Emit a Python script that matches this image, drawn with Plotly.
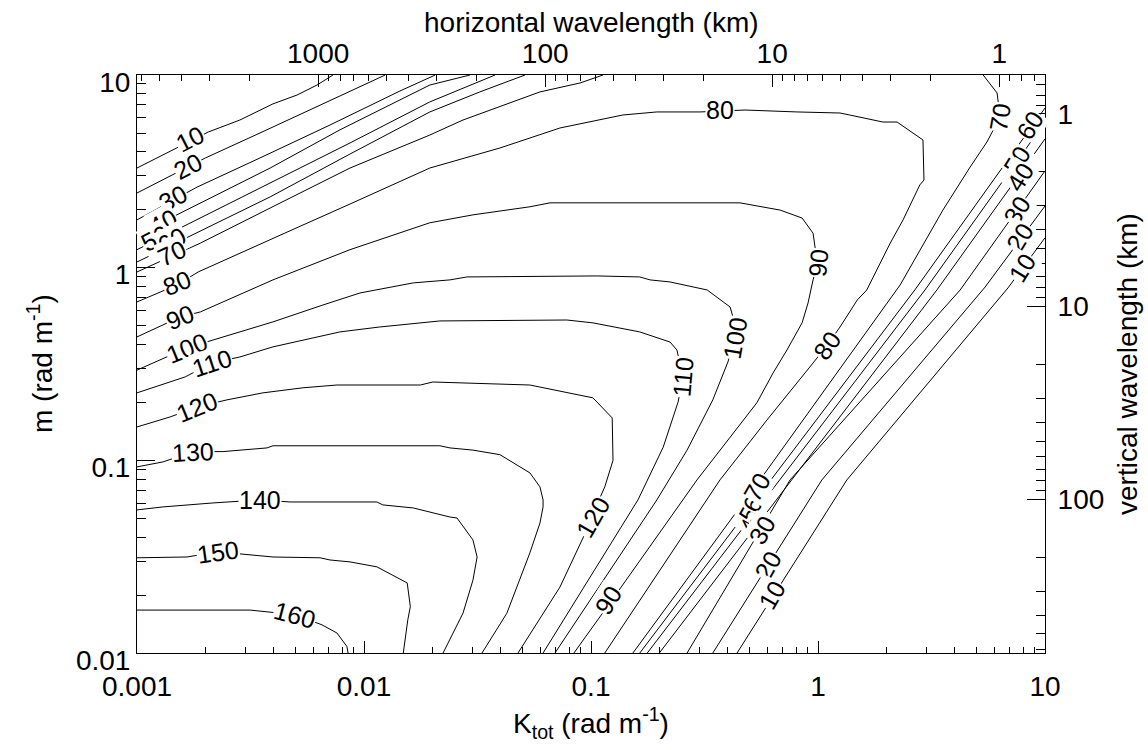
import math
import plotly.graph_objects as go

# ---------------- contour lines (K_tot, m in rad m^-1) ----------------
c10_k = [0.00100, 0.00171, 0.00206, 0.00284, 0.00397, 0.00507, 0.00621, 0.00730]
c10_m = [3.29, 4.54, 5.06, 5.84, 7.08, 7.87, 8.87, 10.0]
c20_k = [0.00100, 0.00140, 0.00200, 0.00348, 0.00640, 0.0124]
c20_m = [2.44, 2.99, 3.71, 5.00, 6.99, 10.0]
c30_k = [0.00100, 0.00184, 0.00348, 0.00708, 0.0144, 0.0206]
c30_m = [1.77, 2.62, 3.71, 5.50, 8.26, 10.0]
c40_k = [0.00100, 0.00190, 0.00386, 0.00783, 0.0195, 0.0293]
c40_m = [1.48, 2.17, 3.29, 5.19, 8.87, 10.0]
c50_k = [0.00100, 0.00190, 0.00386, 0.00868, 0.0195, 0.0378]
c50_m = [1.24, 1.81, 2.75, 4.44, 7.25, 10.0]
c60_k = [0.00100, 0.00190, 0.00386, 0.00868, 0.0195, 0.0324, 0.0512]
c60_m = [1.07, 1.55, 2.33, 3.89, 6.43, 8.17, 10.0]
c70_k = [0.00100, 0.00190, 0.00386, 0.00868, 0.0195, 0.0273, 0.0596, 0.0895, 0.113]
c70_m = [0.950, 1.34, 2.04, 3.29, 4.88, 5.84, 8.17, 9.09, 10.0]
c80_k = [0.00100, 0.00150, 0.00186, 0.00315, 0.00523, 0.00868, 0.0195, 0.0397, 0.0730,
         0.138, 0.195, 0.302, 0.477, 0.808, 1.25, 1.38, 1.93, 2.23, 2.90, 2.93, 2.81,
         2.37, 2.08, 1.64, 1.49, 1.25, 1.10, 0.951, 0.596, 0.370, 0.115]
c80_m = [0.664, 0.813, 0.950, 1.25, 1.64, 2.14, 3.29, 4.18, 5.31,
         6.20, 6.43, 6.43, 6.58, 6.43, 6.35, 6.20, 5.70, 5.70, 4.60, 2.85, 2.69,
         1.77, 1.34, 0.766, 0.680, 0.492, 0.397, 0.320, 0.162, 0.0791, 0.0100]
c90_k = [0.00100, 0.00155, 0.00190, 0.00315, 0.00397, 0.00868, 0.0195, 0.0302, 0.0538,
         0.0660, 0.453, 0.681, 0.851, 0.951, 0.970, 1.00, 0.951, 0.904, 0.851, 0.730,
         0.634, 0.538, 0.410, 0.293, 0.124, 0.0841]
c90_m = [0.437, 0.555, 0.589, 0.766, 0.864, 1.24, 1.71, 1.88, 2.07,
         2.17, 2.17, 1.99, 1.81, 1.51, 1.28, 1.06, 0.864, 0.656, 0.517, 0.374,
         0.284, 0.199, 0.132, 0.0791, 0.0189, 0.0100]
c100_k = [0.00100, 0.00166, 0.00216, 0.00397, 0.00659, 0.00960, 0.0165, 0.0239, 0.0284,
          0.106, 0.164, 0.182, 0.223, 0.325, 0.410, 0.422, 0.431, 0.401, 0.344, 0.265,
          0.195, 0.0694]
c100_m = [0.294, 0.383, 0.421, 0.523, 0.640, 0.739, 0.834, 0.864, 0.895,
          0.906, 0.895, 0.864, 0.843, 0.766, 0.625, 0.555, 0.432, 0.324, 0.206, 0.113,
          0.0623, 0.0100]
c110_k = [0.00100, 0.00163, 0.00214, 0.00284, 0.00397, 0.00783, 0.0117, 0.0216, 0.0783,
          0.102, 0.164, 0.223, 0.239, 0.254, 0.242, 0.208, 0.161, 0.0615]
c110_m = [0.224, 0.271, 0.320, 0.344, 0.388, 0.464, 0.492, 0.529, 0.535,
          0.517, 0.464, 0.411, 0.374, 0.271, 0.201, 0.117, 0.0623, 0.0100]
c120_k = [0.00100, 0.00140, 0.00184, 0.00249, 0.00359, 0.00539, 0.00760, 0.0177, 0.0201,
          0.0538, 0.102, 0.124, 0.125, 0.115, 0.107, 0.102, 0.0913, 0.0730, 0.0477]
c120_m = [0.149, 0.168, 0.189, 0.206, 0.224, 0.238, 0.246, 0.246, 0.255,
          0.246, 0.211, 0.166, 0.100, 0.0728, 0.0601, 0.0508, 0.0386, 0.0220, 0.0100]
c130_k = [0.00100, 0.00130, 0.00177, 0.00239, 0.00374, 0.00397, 0.0216, 0.0239, 0.0302,
          0.0397, 0.0538, 0.0596, 0.0615, 0.0615, 0.0596, 0.0538, 0.0426, 0.0331]
c130_m = [0.0925, 0.0981, 0.111, 0.111, 0.116, 0.119, 0.119, 0.116, 0.113,
          0.107, 0.0861, 0.0728, 0.0623, 0.0573, 0.0473, 0.0331, 0.0161, 0.0100]
c140_k = [0.00100, 0.00130, 0.00216, 0.00348, 0.00472, 0.0114, 0.0121, 0.0165, 0.0239,
          0.0257, 0.0302, 0.0315, 0.0302, 0.0273, 0.0223]
c140_m = [0.0553, 0.0573, 0.0601, 0.0623, 0.0608, 0.0608, 0.0587, 0.0566, 0.0508,
          0.0502, 0.0386, 0.0315, 0.0239, 0.0161, 0.0100]
c150_k = [0.00100, 0.00166, 0.00228, 0.00308, 0.00397, 0.00640, 0.00708, 0.00868, 0.0103,
          0.0114, 0.0155, 0.0160, 0.0156, 0.0149]
c150_m = [0.0312, 0.0315, 0.0335, 0.0323, 0.0315, 0.0312, 0.0304, 0.0297, 0.0286,
          0.0280, 0.0231, 0.0174, 0.0149, 0.0100]
c160_k = [0.00100, 0.00315, 0.00497, 0.00653, 0.00760, 0.00841, 0.00851]
c160_m = [0.0167, 0.0167, 0.0158, 0.0140, 0.0127, 0.0108, 0.0100]
# right-hand bundle
r70_k = [0.153, 0.555, 2.30, 3.55, 4.68, 5.55, 6.34, 6.15, 5.34]
r70_m = [0.0100, 0.0791, 0.813, 1.99, 3.33, 4.49, 6.05, 8.07, 10.0]
r60_k = [0.164, 2.67, 10.0]
r60_m = [0.0100, 0.766, 6.74]
r50_k = [0.177, 2.96, 10.0]
r50_m = [0.0100, 0.766, 5.70]
r40_k = [0.200, 3.34, 10.0]
r40_m = [0.0100, 0.766, 4.66]
r30_k = [0.265, 0.753, 4.23, 10.0]
r30_m = [0.0100, 0.0791, 0.766, 3.18]
r20_k = [0.344, 1.04, 5.45, 10.0]
r20_m = [0.0100, 0.0791, 0.794, 2.09]
r10_k = [0.440, 1.34, 6.87, 10.0]
r10_m = [0.0100, 0.0791, 0.785, 1.43]

lines = [(c10_k, c10_m), (c20_k, c20_m), (c30_k, c30_m), (c40_k, c40_m), (c50_k, c50_m),
         (c60_k, c60_m), (c70_k, c70_m), (c80_k, c80_m), (c90_k, c90_m), (c100_k, c100_m),
         (c110_k, c110_m), (c120_k, c120_m), (c130_k, c130_m), (c140_k, c140_m),
         (c150_k, c150_m), (c160_k, c160_m), (r70_k, r70_m), (r60_k, r60_m), (r50_k, r50_m),
         (r40_k, r40_m), (r30_k, r30_m), (r20_k, r20_m), (r10_k, r10_m)]

# contour labels
label_text = ["10", "20", "30", "40", "50", "60", "70", "80", "90", "100", "110", "120",
              "130", "140", "150", "160",
              "80", "90", "100", "110", "80", "120", "90",
              "70", "60", "50", "40", "30", "20", "10",
              "40", "50", "60", "70", "30", "20", "10"]
label_k = [0.00171, 0.00168, 0.00144, 0.00130, 0.00120, 0.00143, 0.00143, 0.00150, 0.00155,
           0.00166, 0.00214, 0.00184, 0.00177, 0.00348, 0.00228, 0.00497,
           0.370, 1.00, 0.431, 0.254, 1.10, 0.102, 0.119,
           6.34, 8.59, 7.53, 7.76, 7.53, 7.76, 7.90,
           0.512, 0.512, 0.533, 0.538, 0.566, 0.603, 0.627]
label_m = [4.66, 3.37, 2.30, 1.73, 1.43, 1.39, 1.19, 0.834, 0.555,
           0.383, 0.320, 0.189, 0.111, 0.0623, 0.0335, 0.0158,
           6.58, 1.06, 0.432, 0.271, 0.397, 0.0508, 0.0189,
           6.05, 5.50, 3.62, 2.96, 1.99, 1.44, 1.00,
           0.0491, 0.0566, 0.0638, 0.0728, 0.0436, 0.0286, 0.0200]
label_angle = [-27, -27, -28, -28, -28, -28, -25, -22, -22, -22, -18, -22,
               -3, 0, -8, 15,
               0, -85, -80, -85, -55, -60, -58,
               -80, -58, -58, -58, -58, -58, -58,
               -60, -60, -60, -60, -60, -60, -60]

# axis ticks
k_ticks = [0.001, 0.01, 0.1, 1, 10]
k_ticktext = ["0.001", "0.01", "0.1", "1", "10"]
m_ticks = [0.01, 0.1, 1, 10]
m_ticktext = ["0.01", "0.1", "1", "10"]
lh_ticks = [1000, 100, 10, 1]
lh_minor = [6000, 5000, 4000, 3000, 2000, 900, 800, 700, 600, 500, 400, 300, 200,
            90, 80, 70, 60, 50, 40, 30, 20, 9, 8, 7, 6, 5, 4, 3, 2, 0.9, 0.8, 0.7]
lv_ticks = [1, 10, 100]
lv_minor = [600, 500, 400, 300, 200, 90, 80, 70, 60, 50, 40, 30, 20,
            9, 8, 7, 6, 5, 4, 3, 2, 0.9, 0.8, 0.7]

FONT = "Liberation Sans, Arial, Helvetica, sans-serif"

fig = go.Figure()
for kx, my in lines:
    fig.add_trace(go.Scatter(x=kx, y=my, mode="lines", line=dict(color="black", width=1),
                             showlegend=False, hoverinfo="skip"))
# invisible trace to bind the wavelength axes
fig.add_trace(go.Scatter(x=[100], y=[10], xaxis="x2", yaxis="y2", mode="markers",
                         marker=dict(opacity=0), showlegend=False, hoverinfo="skip"))

annotations = []
for t, kx, my, ang in zip(label_text, label_k, label_m, label_angle):
    annotations.append(dict(x=math.log10(kx), y=math.log10(my), xref="x", yref="y",
                            text=t, showarrow=False, textangle=ang,
                            xanchor="center", yanchor="middle",
                            font=dict(family=FONT, size=25, color="black"),
                            bgcolor="white", borderpad=0))

title_font = dict(family=FONT, size=28, color="black")
annotations += [
    dict(x=0.5, y=1, xref="paper", yref="paper", yshift=53, xanchor="center",
         yanchor="middle", text="horizontal wavelength (km)", showarrow=False,
         font=title_font),
    dict(x=0.5, y=0, xref="paper", yref="paper", yshift=-70, xanchor="center",
         yanchor="middle", text="K<sub>tot</sub> (rad m<sup>-1</sup>)",
         showarrow=False, font=title_font),
    dict(x=0, y=0.5, xref="paper", yref="paper", xshift=-97, xanchor="center",
         yanchor="middle", text="m (rad m<sup>-1</sup>)",
         textangle=-90, showarrow=False, font=title_font),
    dict(x=1, y=0.5, xref="paper", yref="paper", xshift=82, xanchor="center",
         yanchor="middle", text="vertical wavelength (km)",
         textangle=-90, showarrow=False, font=title_font),
]

tickfont = dict(family=FONT, size=28, color="black")
common = dict(type="log", showgrid=False, zeroline=False, showline=True, linecolor="black",
              linewidth=1, ticks="inside", tickcolor="black", tickwidth=1, tickfont=tickfont)

k_minor = [d * 10 ** e for e in range(-3, 1) for d in range(2, 10)]
m_minor = [d * 10 ** e for e in range(-2, 1) for d in range(2, 10)]

fig.update_layout(
    width=1148, height=750,
    margin=dict(l=137, r=103, t=75, b=97),
    paper_bgcolor="white", plot_bgcolor="white",
    font=dict(family=FONT, color="black"),
    xaxis=dict(**common, range=[-3, 1], tickvals=k_ticks, ticktext=k_ticktext, ticklen=12,
               ticklabelstandoff=8,
               minor=dict(tickvals=k_minor, ticks="inside", ticklen=6, tickcolor="black")),
    yaxis=dict(**common, range=[-2, 1], tickvals=m_ticks, ticktext=m_ticktext, ticklen=18,
               ticklabelshift=7,
               minor=dict(tickvals=m_minor, ticks="inside", ticklen=9, tickcolor="black")),
    xaxis2=dict(**common, overlaying="x", side="top", anchor="y",
                range=[math.log10(2 * math.pi / 0.001), math.log10(2 * math.pi / 10)],
                tickvals=lh_ticks, ticktext=[str(v) for v in lh_ticks], ticklen=12,
                minor=dict(tickvals=lh_minor, ticks="inside", ticklen=6, tickcolor="black")),
    yaxis2=dict(**common, overlaying="y", side="right", anchor="x",
                range=[math.log10(2 * math.pi / 0.01), math.log10(2 * math.pi / 10)],
                tickvals=lv_ticks, ticktext=[str(v) for v in lv_ticks], ticklen=18,
                ticklabelstandoff=6,
                minor=dict(tickvals=lv_minor, ticks="inside", ticklen=9, tickcolor="black")),
    annotations=annotations,
)

fig.write_html("out.html")
